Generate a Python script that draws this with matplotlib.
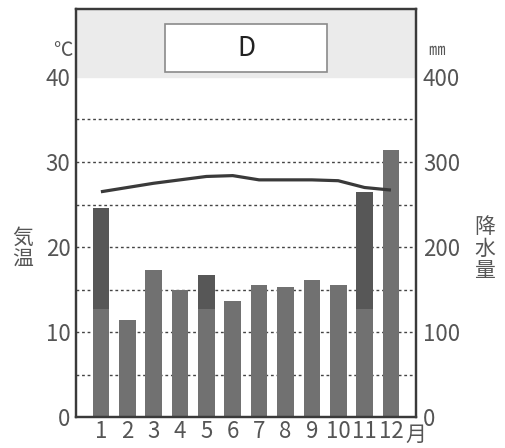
import matplotlib.pyplot as plt
from matplotlib.patches import Rectangle
import numpy as np

plt.rcParams['font.family'] = ['Noto Sans CJK JP', 'DejaVu Sans']

# data
months = np.arange(1, 13)
month_labels = ['1', '2', '3', '4', '5', '6', '7', '8', '9', '10', '11', '12']
temp = [26.5, 27.0, 27.5, 27.9, 28.3, 28.4, 27.9, 27.9, 27.9, 27.8, 27.0, 26.7]
precip = [246, 114, 173, 150, 167, 136, 155, 153, 161, 155, 265, 314]
# darker upper part of some bars (starts at this value), 0 = none
dark_from = [127, 0, 0, 0, 127, 0, 0, 0, 0, 0, 127, 0]
title = 'D'

text_col = '#555555'
bar_col = '#717171'
dark_col = '#575757'

fig = plt.figure(figsize=(5.06, 4.48), dpi=100)
ax = fig.add_axes([0.150, 0.069, 0.672, 0.911])
ax2 = ax.twinx()

ax.set_xlim(0.052, 12.948)
ax.set_ylim(0, 48)
ax2.set_ylim(0, 480)

# gray band above 400 mm and dotted grid, drawn behind the bars
ax2.axhspan(400, 480, color='#ebebeb', zorder=0)
for y in range(50, 400, 50):
    ax2.axhline(y, color='#444444', lw=1.0, ls=(0, (2, 2)), zorder=1)

# precipitation bars
ax2.bar(months, precip, width=0.63, color=bar_col, zorder=2)
for m, p, d in zip(months, precip, dark_from):
    if d > 0:
        ax2.bar(m, p - d, bottom=d, width=0.63, color=dark_col, zorder=3)

# temperature line on top
ax.set_zorder(ax2.get_zorder() + 1)
ax.patch.set_visible(False)
ax.plot(months, temp, color='#3a3a3a', lw=2.3, zorder=5, solid_capstyle='butt')

# title box
box = Rectangle((0.262, 0.845), 0.475, 0.118, transform=ax.transAxes,
                facecolor='white', edgecolor='#8a8a8a', lw=1.2, zorder=6)
ax.add_patch(box)
ax.text(0.5, 0.904, title, transform=ax.transAxes, ha='center', va='center',
        fontsize=19, color='#222222', zorder=7)

ax.set_yticks([0, 10, 20, 30, 40])
ax2.set_yticks([0, 100, 200, 300, 400])
ax.set_xticks(months)
ax.set_xticklabels(month_labels)
ax.tick_params(axis='both', length=0, labelsize=16, labelcolor=text_col, pad=4)
ax2.tick_params(axis='y', length=0, labelsize=16, labelcolor=text_col, pad=5)
ax.tick_params(axis='x', pad=2)

for a in (ax, ax2):
    for s in a.spines.values():
        s.set_color('#3a3a3a')
        s.set_linewidth(1.6)

fig.text(0.124, 0.888, '℃', ha='center', va='center', fontsize=14, color=text_col)
fig.text(0.862, 0.888, '㎜', ha='center', va='center', fontsize=12, color=text_col)
fig.text(0.044, 0.445, '気\n温', ha='center', va='center', fontsize=15,
         color=text_col, linespacing=1.0)
fig.text(0.958, 0.445, '降\n水\n量', ha='center', va='center', fontsize=15,
         color=text_col, linespacing=1.0)
fig.text(0.821, 0.029, '月', ha='center', va='center', fontsize=15, color=text_col)

fig.savefig('out.png', dpi=100)
